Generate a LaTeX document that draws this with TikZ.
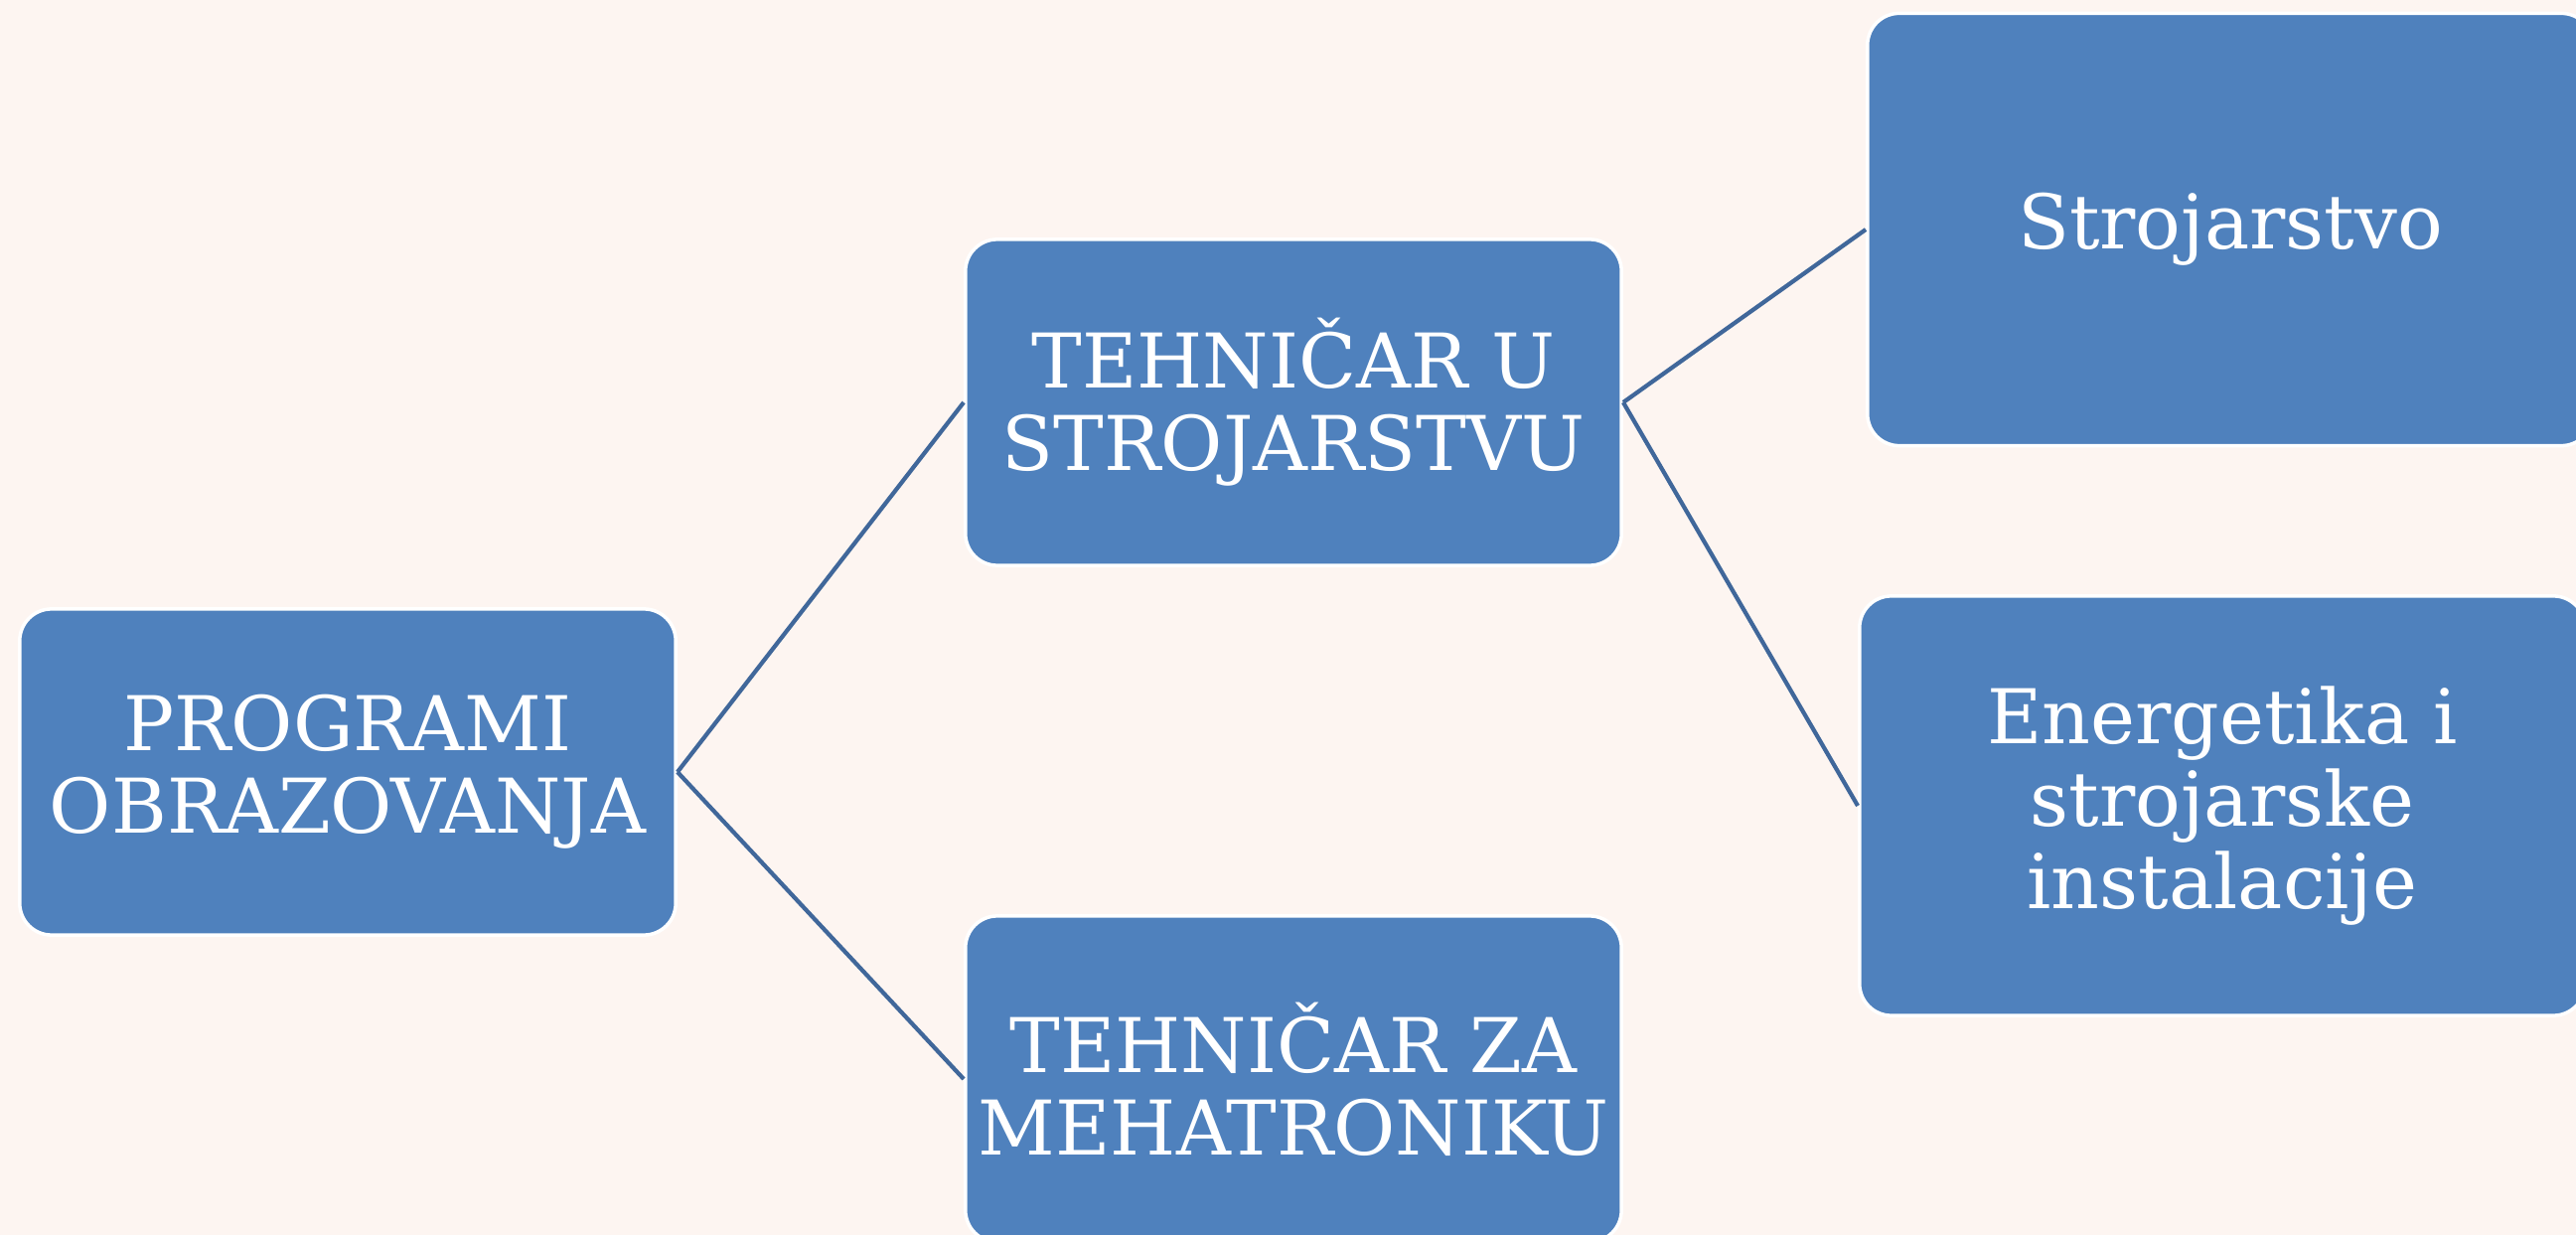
\documentclass[tikz,border=0pt]{standalone}
\usepackage{fontspec}
\setmainfont{DejaVu Serif}
\definecolor{bgcream}{RGB}{253,245,241}
\definecolor{boxblue}{RGB}{79,129,189}
\definecolor{linkblue}{RGB}{64,103,154}
\begin{document}
\begin{tikzpicture}[
    x=0.01cm, y=-0.01cm,
    font=\fontsize{21.6}{23.6}\selectfont,
    box/.style={draw=white, line width=1pt, fill=boxblue, rounded corners=0.32cm, text=white, align=center, minimum width=6.6cm, minimum height=3.28cm, inner sep=0pt},
    leaf/.style={box, minimum width=7.3cm},
    link/.style={draw=linkblue, line width=1.2pt}
]
\clip (0,0) rectangle (2593,1243);
\fill[bgcream] (0,0) rectangle (2593,1243);

\node[box] (programi) at (350,777) {PROGRAMI\\OBRAZOVANJA};
\node[box] (strojtech) at (1302,405) {TEHNIČAR U\\STROJARSTVU};
\node[box] (mehatech) at (1302,1086) {TEHNIČAR ZA\\MEHATRONIKU};
\node[leaf, minimum height=4.35cm] (strojarstvo) at (2245,231) {Strojarstvo};
\node[leaf, minimum height=4.22cm] (energetika) at (2237,811) {Energetika i\\strojarske\\instalacije};

\draw[link] (programi.east) -- (strojtech.west);
\draw[link] (programi.east) -- (mehatech.west);
\draw[link] (strojtech.east) -- (strojarstvo.west);
\draw[link] (strojtech.east) -- (energetika.west);

\end{tikzpicture}
\end{document}
